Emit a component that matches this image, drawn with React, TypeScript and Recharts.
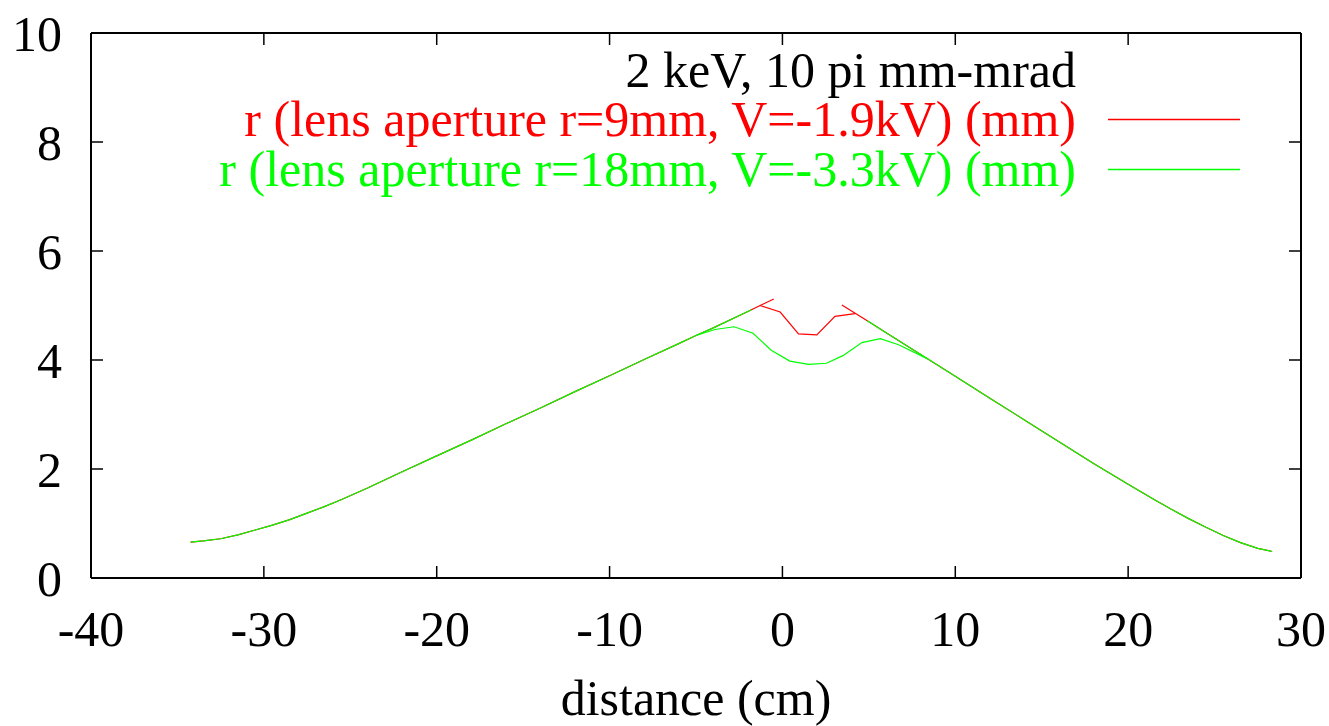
import React from 'react';
import { LineChart, Line, XAxis, YAxis, Legend } from 'recharts';

// beam radius r (mm) vs distance (cm)
const beamIn = [
  { x: -34.24, r: 0.657 }, { x: -33.5, r: 0.68 }, { x: -32.5, r: 0.72 }, { x: -31.5, r: 0.79 },
  { x: -30.5, r: 0.88 }, { x: -29.5, r: 0.97 }, { x: -28.5, r: 1.07 }, { x: -27.5, r: 1.19 },
  { x: -26.5, r: 1.31 }, { x: -25.5, r: 1.44 }, { x: -24, r: 1.65 }, { x: -22, r: 1.95 },
  { x: -20, r: 2.24 }, { x: -18, r: 2.53 }, { x: -16, r: 2.83 }, { x: -14, r: 3.12 },
  { x: -12, r: 3.42 }, { x: -10, r: 3.71 }, { x: -8, r: 4.01 }, { x: -6, r: 4.30 },
  { x: -5, r: 4.45 }, { x: -4, r: 4.59 }, { x: -2, r: 4.89 },
];
const redInTip = [{ x: -2, r: 4.89 }, { x: -1.29, r: 5.0 }, { x: -0.5, r: 5.12 }];
const greenInTip = [{ x: -2, r: 4.89 }, { x: -1.8, r: 4.92 }];

const redLens = [
  { x: -1.29, r: 5.0 }, { x: -0.13, r: 4.88 }, { x: 0.93, r: 4.48 }, { x: 1.99, r: 4.46 },
  { x: 3.04, r: 4.8 }, { x: 4.2, r: 4.85 },
];
const greenLens = [
  { x: -5, r: 4.45 }, { x: -3.9, r: 4.56 }, { x: -2.8, r: 4.61 }, { x: -1.7, r: 4.49 },
  { x: -0.65, r: 4.18 }, { x: 0.43, r: 3.98 }, { x: 1.51, r: 3.92 }, { x: 2.55, r: 3.94 },
  { x: 3.5, r: 4.08 }, { x: 4.6, r: 4.32 }, { x: 5.66, r: 4.39 }, { x: 6.72, r: 4.28 },
  { x: 8.4, r: 4.02 },
];

const redOutTip = [{ x: 3.44, r: 5.01 }, { x: 5, r: 4.7 }];
const greenOutTip = [{ x: 4.9, r: 4.72 }, { x: 5, r: 4.7 }];
const beamOut = [
  { x: 5, r: 4.7 }, { x: 6, r: 4.5 }, { x: 8, r: 4.1 }, { x: 10, r: 3.7 }, { x: 12, r: 3.3 },
  { x: 14, r: 2.9 }, { x: 16, r: 2.5 }, { x: 18, r: 2.1 }, { x: 20, r: 1.72 }, { x: 21.5, r: 1.44 },
  { x: 22.5, r: 1.26 }, { x: 23.5, r: 1.09 }, { x: 24.5, r: 0.93 }, { x: 25.5, r: 0.78 },
  { x: 26.5, r: 0.65 }, { x: 27.5, r: 0.545 }, { x: 28.33, r: 0.486 },
];

const xTicks = [-40, -30, -20, -10, 0, 10, 20, 30];
const yTicks = [0, 2, 4, 6, 8, 10];
const keyTitle = '2 keV, 10 pi mm-mrad';
const redName = 'r (lens aperture r=9mm, V=-1.9kV) (mm)';
const greenName = 'r (lens aperture r=18mm, V=-3.3kV) (mm)';

const RED = '#ff0000';
const GREEN = '#00ff00';
const FONT = '"Liberation Serif", "Times New Roman", serif';

const keyRows = [
  { name: redName, color: RED },
  { name: greenName, color: GREEN },
];

function Key() {
  return (
    <svg width={1329} height={200} style={{ fontFamily: FONT, display: 'block' }}>
      <text x={1076} y={87} textAnchor="end" fontSize={50} fill="#000">
        {keyTitle}
      </text>
      {keyRows.map((row, i) => (
        <g key={row.name}>
          <text x={1076} y={136 + i * 50} textAnchor="end" fontSize={50} fill={row.color}>
            {row.name}
          </text>
          <line x1={1108} x2={1240} y1={119.5 + i * 50} y2={119.5 + i * 50} stroke={row.color} strokeWidth={1.3} />
        </g>
      ))}
    </svg>
  );
}

export default function App() {
  const tickStyle = { fontSize: 50, fill: '#000', fontFamily: FONT };
  const lineProps = {
    type: 'linear' as const,
    dataKey: 'r',
    dot: false,
    strokeWidth: 1.2,
    isAnimationActive: false,
  };
  return (
    <div style={{ position: 'fixed', left: 0, top: 0, background: '#fff' }}>
      <LineChart width={1329} height={726} margin={{ top: 0, right: 0, bottom: 0, left: 0 }} style={{ fontFamily: FONT }}>
        <XAxis
          xAxisId="b"
          type="number"
          dataKey="x"
          domain={[-40, 30]}
          ticks={xTicks}
          interval={0}
          allowDataOverflow
          height={148}
          tickSize={-12}
          tickMargin={44}
          tick={tickStyle}
          axisLine={{ stroke: '#000', strokeWidth: 2 }}
          tickLine={{ stroke: '#000', strokeWidth: 1.5 }}
          label={{ value: 'distance (cm)', position: 'insideBottom', offset: 11, fontSize: 50, fill: '#000', fontFamily: FONT }}
        />
        <XAxis
          xAxisId="t"
          orientation="top"
          type="number"
          dataKey="x"
          domain={[-40, 30]}
          ticks={xTicks}
          interval={0}
          allowDataOverflow
          height={33}
          tickSize={-12}
          tickFormatter={() => ''}
          axisLine={{ stroke: '#000', strokeWidth: 2 }}
          tickLine={{ stroke: '#000', strokeWidth: 1.5 }}
        />
        <YAxis
          yAxisId="l"
          type="number"
          domain={[0, 10]}
          ticks={yTicks}
          interval={0}
          allowDataOverflow
          width={91}
          tickSize={-12}
          tickMargin={41}
          tick={tickStyle}
          axisLine={{ stroke: '#000', strokeWidth: 2 }}
          tickLine={{ stroke: '#000', strokeWidth: 1.5 }}
        />
        <YAxis
          yAxisId="r"
          orientation="right"
          type="number"
          domain={[0, 10]}
          ticks={yTicks}
          interval={0}
          allowDataOverflow
          width={28}
          tickSize={-12}
          tickFormatter={() => ''}
          axisLine={{ stroke: '#000', strokeWidth: 2 }}
          tickLine={{ stroke: '#000', strokeWidth: 1.5 }}
        />
        <Legend
          layout="horizontal"
          verticalAlign="middle"
          align="center"
          content={<Key />}
          wrapperStyle={{ top: 0, left: 0, width: 1329, height: 200 }}
        />
        <Line {...lineProps} xAxisId="b" yAxisId="l" data={[...beamIn, ...redInTip]} stroke={RED} name={redName} />
        <Line {...lineProps} xAxisId="b" yAxisId="l" data={redLens} stroke={RED} legendType="none" name="red-lens" />
        <Line {...lineProps} xAxisId="b" yAxisId="l" data={[...redOutTip, ...beamOut]} stroke={RED} legendType="none" name="red-out" />
        <Line {...lineProps} xAxisId="b" yAxisId="l" data={[...beamIn, ...greenInTip]} stroke={GREEN} name={greenName} />
        <Line {...lineProps} xAxisId="b" yAxisId="l" data={greenLens} stroke={GREEN} legendType="none" name="green-lens" />
        <Line {...lineProps} xAxisId="b" yAxisId="l" data={[...greenOutTip, ...beamOut]} stroke={GREEN} legendType="none" name="green-out" />
      </LineChart>
    </div>
  );
}
